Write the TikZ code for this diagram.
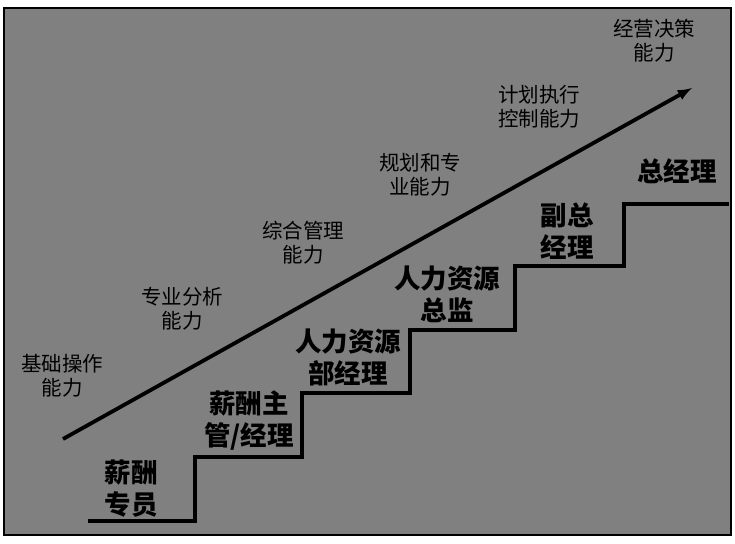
\documentclass[tikz,border=0pt]{standalone}
\usepackage{fontspec}
\newfontfamily\cjk{Noto Sans CJK SC}
\definecolor{stagegray}{RGB}{128,128,128}

\begin{document}
\begin{tikzpicture}[x=1pt,y=-1pt,>=latex,
      ability/.style={font=\cjk\fontsize{20.5}{24}\selectfont,align=center,inner sep=0pt},
      post/.style={font=\cjk\bfseries\fontsize{26.5}{32}\selectfont,align=center,inner sep=0pt}]
    \useasboundingbox (0,0) rectangle (735,543);
    \draw[line width=1.2pt,fill=stagegray] (4,8) rectangle (731,535);
    % staircase
    \draw[line width=3.5pt] (88,521) -- (195,521) -- (195,457) -- (302,457) -- (302,393)
      -- (410,393) -- (410,330) -- (515,330) -- (515,266) -- (624,266) -- (624,204) -- (729,204);
    % growth arrow
    \coordinate (start) at (63,439);
    \coordinate (end) at (692,88);
    \draw[->,line width=3.8pt] (start) -- (end);
    \node[ability] (basic) at (62,376) {基础操作\\能力};
    \node[ability] (analysis) at (182,309) {专业分析\\能力};
    \node[ability] (manage) at (303,243) {综合管理\\能力};
    \node[ability] (plan) at (420,175) {规划和专\\业能力};
    \node[ability] (control) at (539,107) {计划执行\\控制能力};
    \node[ability] (decide) at (654,41) {经营决策\\能力};
    \node[post] (clerk) at (131,489) {薪酬\\专员};
    \node[post] (supervisor) at (249,421) {薪酬主\\管/经理};
    \node[post] (hrmanager) at (348,357) {人力资源\\部经理};
    \node[post] (hrdirector) at (447,294) {人力资源\\总监};
    \node[post] (vp) at (567,231) {副总\\经理};
    \node[post] (ceo) at (677,171) {总经理};
  \end{tikzpicture}
\end{document}
